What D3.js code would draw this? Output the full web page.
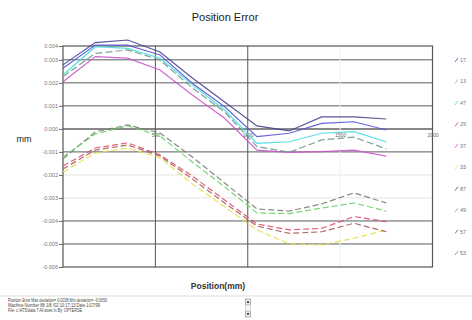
<!DOCTYPE html>
<html><head><meta charset="utf-8">
<script src="https://cdn.jsdelivr.net/npm/d3@7"></script>
<style>body{margin:0;background:#fff}svg{display:block;font-family:"Liberation Sans",Arial,sans-serif}</style>
</head><body>
<svg id="c" width="472" height="320"></svg>
<script>
const positions = [0,175,350,525,700,875,1050,1225,1400,1575,1750];
const seriesNames = ["17","13","47","29","37","33","87","49","57","53"];
const s17 = [0.00263,0.00364,0.00364,0.00321,0.00198,0.00096,-0.00034,-0.00019,0.00024,0.00031,-0.00005];
const s13 = [0.00278,0.00375,0.00386,0.00334,0.00221,0.00117,0.00013,-0.00009,0.00052,0.00052,0.00043];
const s47 = [0.00234,0.00357,0.00350,0.00307,0.00191,0.00082,-0.00063,-0.00056,-0.00019,-0.00012,-0.00056];
const s29 = [0.00205,0.00314,0.00307,0.00256,0.00147,0.00046,-0.00092,-0.00102,-0.00099,-0.00092,-0.00118];
const s37 = [0.00227,0.00328,0.00343,0.00299,0.00178,0.00073,-0.00077,-0.00102,-0.00048,-0.00036,-0.00087];
const s33 = [-0.00187,-0.00105,-0.00083,-0.00126,-0.00239,-0.00339,-0.00439,-0.00500,-0.00504,-0.00475,-0.00439];
const s87 = [-0.00130,-0.00013,0.00017,-0.00018,-0.00122,-0.00235,-0.00348,-0.00357,-0.00326,-0.00278,-0.00322];
const s49 = [-0.00122,-0.00022,0.00013,-0.00031,-0.00144,-0.00252,-0.00365,-0.00368,-0.00344,-0.00322,-0.00357];
const s57 = [-0.00161,-0.00083,-0.00061,-0.00113,-0.00205,-0.00309,-0.00413,-0.00439,-0.00432,-0.00381,-0.00403];
const s53 = [-0.00174,-0.00092,-0.00070,-0.00118,-0.00218,-0.00322,-0.00422,-0.00454,-0.00447,-0.00410,-0.00447];
const seriesValues = [s17,s13,s47,s29,s37,s33,s87,s49,s57,s53];
const seriesColors = ["#5656d8","#45458f","#44dede","#cc55cc","#6f9a86","#e6e04a","#7c7c74","#66d266","#e04a6a","#a85c5c"];
const seriesDash = ["none","none","none","none","7,3","6,3","6,3","6,3","6,3","6,3"];
const legendColors = ["#6060d0","#b8b8c8","#50e0e0","#d060c0","#e070e0","#eeee90","#707070","#b0b0b0","#808080","#9a9a9a"];
const yTickValues = [-0.006,-0.005,-0.004,-0.003,-0.002,-0.001,0,0.001,0.002,0.003,0.0036];
const yTickLabels = ["-0.006","-0.005","-0.004","-0.003","-0.002","-0.001","0.000","0.001","0.002","0.003","0.004"];
const xTickValues = [500,1000,1500,2000];
const xTickLabels = ["500","1000","1500","2000"];
const infoLines = ["Position Error   Max deviation= 0.0038   Min deviation= -0.0050",
                   "Machine Number 88   1/8 /02  10:17:13   Date 1/17/99",
                   "File: c:\\ATS\\data 7 All axes In   By: OPTERSE"];

const svg = d3.select("#c");
const L=63, R=432.5, T=46, B=267;
const x = d3.scaleLinear().domain([0,2000]).range([L,R]);
const y = d3.scaleLinear().domain([-0.006,0.0036]).range([B,T]);

svg.append("text").attr("x",225).attr("y",21).attr("text-anchor","middle")
  .attr("font-size",11).attr("fill","#222").text("Position Error");

// gridlines
const g = svg.append("g");
yTickValues.forEach(v=>{
  if (v===-0.006 || v===0.0036) return;
  const light = (v===-0.002||v===-0.003);
  g.append("line").attr("x1",L).attr("x2",R).attr("y1",y(v)).attr("y2",y(v))
   .attr("stroke", light?"#e4e4e4":(v===0?"#888":"#5a5a5a"))
   .attr("stroke-width", v===0?2:1);
});
xTickValues.forEach(v=>{
  if (v===2000) return;
  g.append("line").attr("x1",x(v)).attr("x2",x(v)).attr("y1",T).attr("y2",B)
   .attr("stroke", v===1500?"#f0f0f0":"#555").attr("stroke-width",1);
});
g.append("rect").attr("x",L).attr("y",T).attr("width",R-L).attr("height",B-T)
  .attr("fill","none").attr("stroke","#555").attr("stroke-width",1.2);

// y axis
const yAxis = d3.axisLeft(y).tickValues(yTickValues).tickSize(4).tickPadding(1)
  .tickFormat((d,i)=>yTickLabels[i]);
const ya = svg.append("g").attr("transform",`translate(${L},0)`).call(yAxis);
ya.select(".domain").remove();
ya.selectAll("line").attr("stroke","#666");
ya.selectAll("text").attr("font-size",5.5).attr("fill","#777").attr("font-family","Liberation Sans, Arial");

// x tick labels on zero line
const xAxis = d3.axisBottom(x).tickValues(xTickValues).tickSize(0).tickPadding(5)
  .tickFormat((d,i)=>xTickLabels[i]);
const xa = svg.append("g").attr("transform",`translate(0,${y(0)})`).call(xAxis);
xa.select(".domain").remove();
xa.selectAll("text").attr("font-size",5).attr("fill","#666").attr("font-family","Liberation Sans, Arial");

// lines
const line = d3.line().x((d,i)=>x(positions[i])).y(d=>y(d));
seriesValues.forEach((vals,k)=>{
  svg.append("path").datum(vals).attr("d",line).attr("fill","none")
    .attr("stroke",seriesColors[k]).attr("stroke-width",1.2)
    .attr("stroke-dasharray",seriesDash[k]).attr("opacity",0.9);
});

// axis titles
svg.append("text").attr("x",24).attr("y",142).attr("text-anchor","middle")
  .attr("font-size",9).attr("fill","#222").text("mm");
svg.append("text").attr("x",218).attr("y",289).attr("text-anchor","middle")
  .attr("font-size",8.5).attr("font-weight","bold").attr("fill","#333").text("Position(mm)");

// legend
const ly = d3.scalePoint().domain(seriesNames).range([60,253]);
seriesNames.forEach((n,k)=>{
  const yy = ly(n);
  svg.append("line").attr("x1",455).attr("y1",yy+2).attr("x2",458).attr("y2",yy-2)
    .attr("stroke",legendColors[k]).attr("stroke-width",1);
  svg.append("text").attr("x",460).attr("y",yy+2).attr("font-size",5.5)
    .attr("fill","#777").text(n);
});

// info box
svg.append("line").attr("x1",0).attr("x2",472).attr("y1",296).attr("y2",296)
  .attr("stroke","#ddd");
const infoW = [99,92,74];
infoLines.forEach((t,i)=>{
  svg.append("text").attr("x",8).attr("y",301.5+i*5).attr("font-size",4.6)
    .attr("fill","#444").attr("textLength",infoW[i]).attr("lengthAdjust","spacingAndGlyphs").text(t);
});
[299,311].forEach((yy,i)=>{
  svg.append("rect").attr("x",245.5).attr("y",yy).attr("width",5).attr("height",6)
    .attr("fill","#eee").attr("stroke","#888").attr("stroke-width",0.6);
  svg.append("path").attr("d", i===0?`M246.5,${yy+4}L248,${yy+1.5}L249.5,${yy+4}Z`:`M246.5,${yy+2}L248,${yy+4.5}L249.5,${yy+2}Z`)
    .attr("fill","#333");
});
svg.append("rect").attr("x",245.5).attr("y",305).attr("width",5).attr("height",6)
  .attr("fill","#f6f6f6").attr("stroke","#bbb").attr("stroke-width",0.5);
</script>
</body></html>
